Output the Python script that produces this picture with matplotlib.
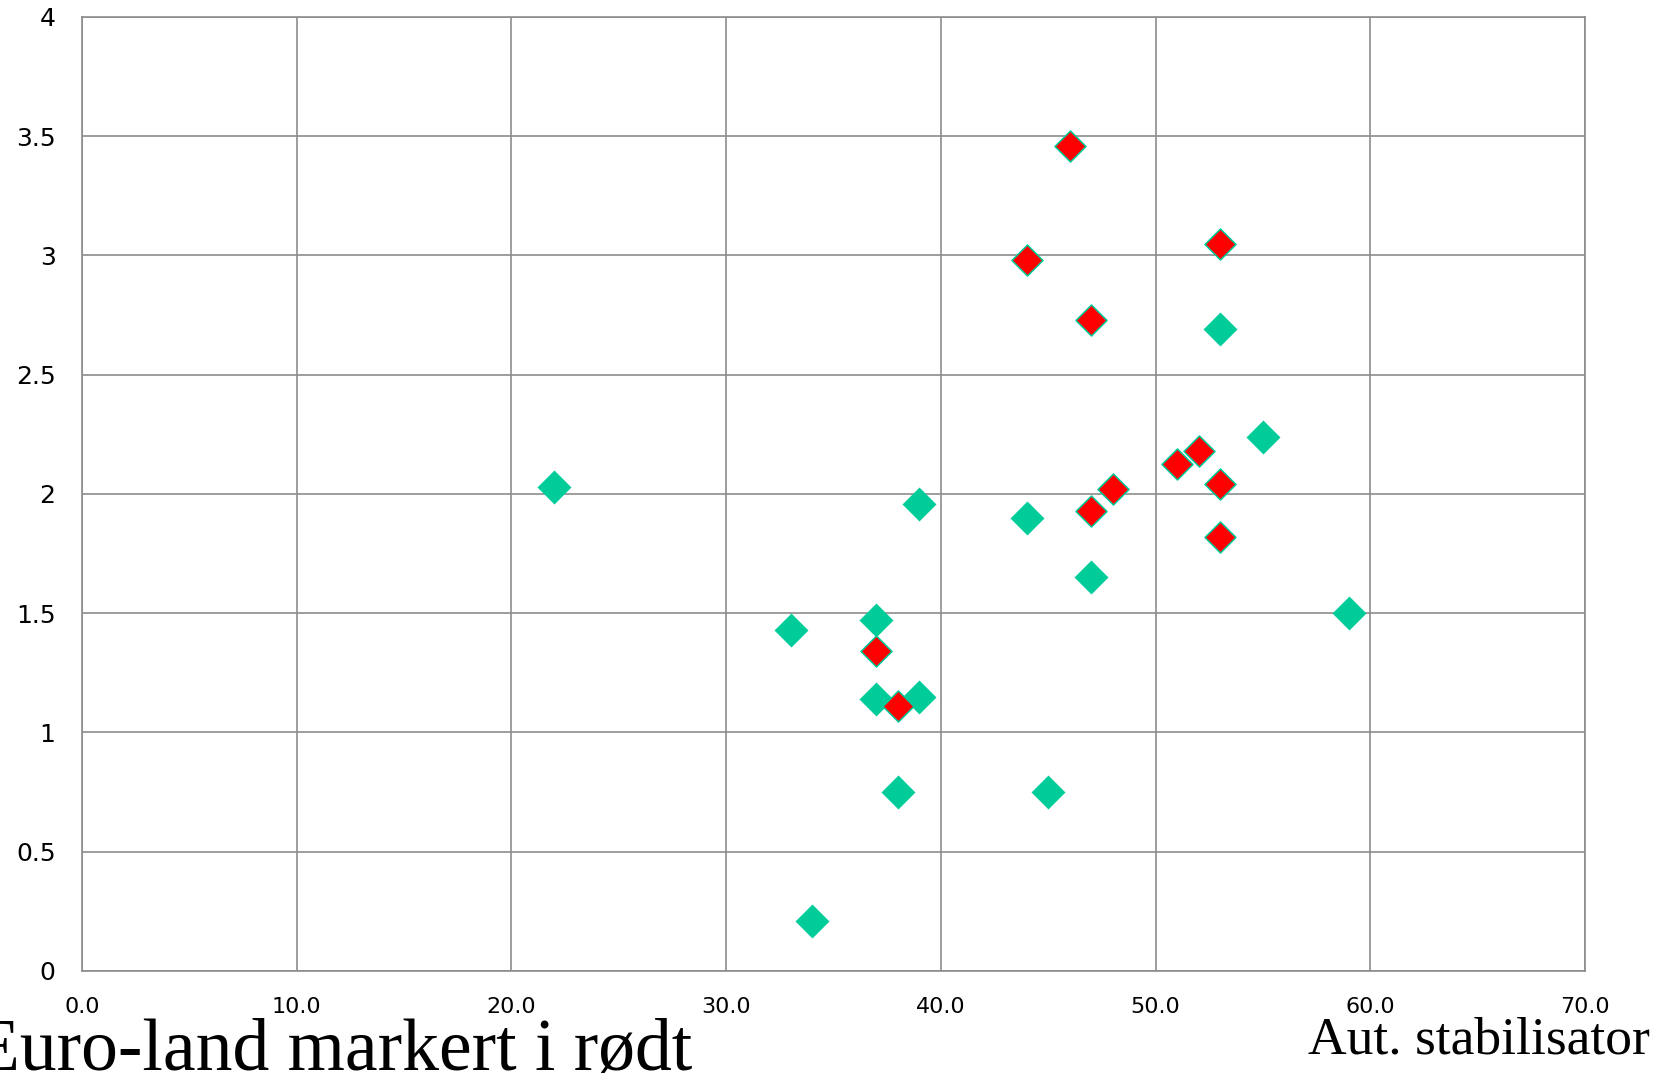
import matplotlib
matplotlib.use("Agg")
import matplotlib.pyplot as plt

# ikke-euro land (gronne) og euro-land (rode)
other_x = [22, 33, 34, 37, 37, 38, 39, 39, 44, 45, 47, 53, 55, 59]
other_y = [2.03, 1.43, 0.21, 1.47, 1.14, 0.75, 1.15, 1.96, 1.90, 0.75, 1.65, 2.69, 2.24, 1.50]

euro_x = [46, 44, 53, 47, 51, 52, 48, 53, 47, 53, 37, 38]
euro_y = [3.46, 2.98, 3.05, 2.73, 2.125, 2.18, 2.02, 2.04, 1.93, 1.82, 1.34, 1.11]

x_ticks = [0, 10, 20, 30, 40, 50, 60, 70]
y_ticks = [0, 0.5, 1, 1.5, 2, 2.5, 3, 3.5, 4]
y_labels = ["0", "0.5", "1", "1.5", "2", "2.5", "3", "3.5", "4"]

green = "#00cc99"
red = "#ff0000"
grid_col = "#8c8c8c"

fig = plt.figure(figsize=(16.69, 10.81), dpi=100)
ax = fig.add_axes([0.0491, 0.1018, 0.9006, 0.8825])

ax.scatter(other_x, other_y, marker="D", s=17.3 ** 2, color=green,
           linewidths=0, zorder=3, clip_on=False)
ax.scatter(euro_x, euro_y, marker="D", s=15.8 ** 2, color=red,
           edgecolors=green, linewidths=1.1, zorder=4, clip_on=False)

ax.set_xlim(0, 70)
ax.set_ylim(0, 4)
ax.set_xticks(x_ticks)
ax.set_xticklabels(["%.1f" % v for v in x_ticks],
                   family=["Liberation Sans Narrow", "DejaVu Sans"], fontsize=16)
ax.set_yticks(y_ticks)
ax.set_yticklabels(y_labels, family="DejaVu Sans", fontsize=18)
ax.tick_params(axis="both", length=0)
ax.tick_params(axis="x", pad=19)
ax.tick_params(axis="y", pad=19)

ax.grid(True, color=grid_col, linewidth=1.2)
ax.set_axisbelow(True)
for sp in ax.spines.values():
    sp.set_color(grid_col)
    sp.set_linewidth(1.2)

fig.text(692 / 1669, 1 - 1070 / 1081, "Euro-land markert i rødt",
         family="Liberation Serif", fontsize=53, ha="right", va="baseline")
fig.text(1650 / 1669, 1 - 1054 / 1081, "Aut. stabilisator",
         family="Liberation Serif", fontsize=38.5, ha="right", va="baseline")

fig.savefig("out.png", dpi=100)
